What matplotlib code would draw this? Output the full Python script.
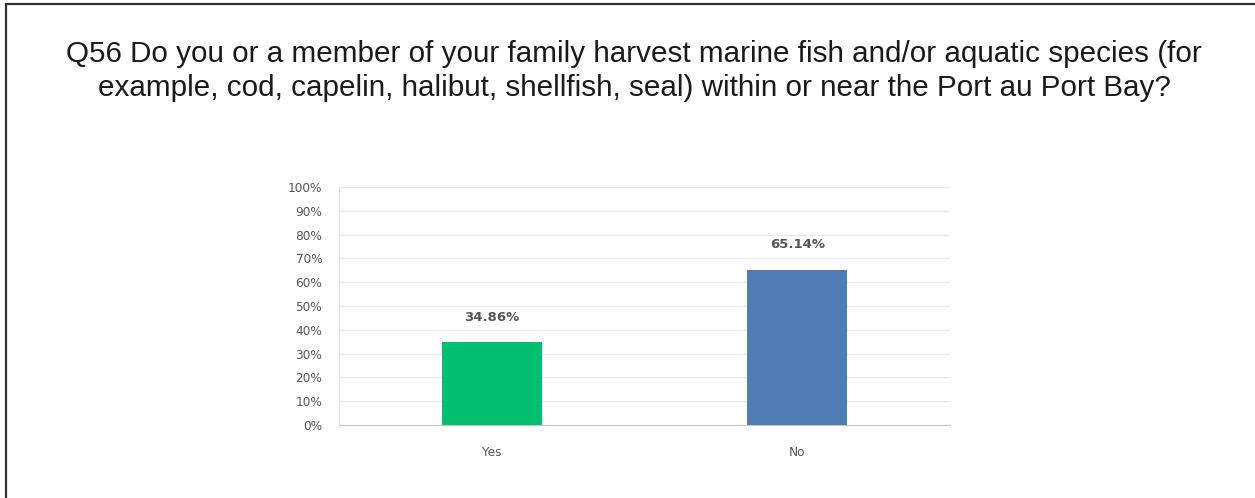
import matplotlib.pyplot as plt
from matplotlib.patches import Rectangle

categories = ["Yes", "No"]
values = [34.86, 65.14]
colors = ["#00bf6f", "#507cb6"]
yticks = [0, 10, 20, 30, 40, 50, 60, 70, 80, 90, 100]
title = ("Q56 Do you or a member of your family harvest marine fish and/or aquatic species (for\n"
         "example, cod, capelin, halibut, shellfish, seal) within or near the Port au Port Bay?")

W, H = 1255, 498
fig = plt.figure(figsize=(W / 100, H / 100), dpi=100)
fig.patch.set_facecolor("white")

# outer frame (top and left edges visible)
fig.add_artist(Rectangle((6 / W, -0.05), 1.2, (H - 4) / H + 0.05,
                         transform=fig.transFigure, fill=False,
                         edgecolor="#333333", linewidth=1.6))

fig.text(634 / W, 1 - 71 / H, title, ha="center", va="center",
         fontsize=21.3, family="Liberation Sans", color="#1a1a1a",
         linespacing=1.3)

ax = fig.add_axes([339 / W, 1 - 425 / H, (950 - 339) / W, (425 - 187) / H])
x = range(len(categories))
bars = ax.bar(x, values, width=0.327, color=colors, zorder=3)
ax.set_xlim(-0.5, 1.5)
ax.set_ylim(0, 100)
ax.set_yticks(yticks)
ax.set_yticklabels([f"{t}%" for t in yticks])
ax.set_xticks(list(x))
ax.set_xticklabels(categories)
ax.grid(axis="y", color="#ebebeb", linewidth=1, zorder=0)
for s in ["top", "right"]:
    ax.spines[s].set_visible(False)
ax.spines["left"].set_color("#e0e0e0")
ax.spines["bottom"].set_color("#c8c8c8")
ax.tick_params(axis="both", length=0, labelsize=8.7, labelcolor="#555555")
ax.tick_params(axis="y", pad=12)
ax.tick_params(axis="x", pad=15)
for lab in ax.get_xticklabels() + ax.get_yticklabels():
    lab.set_family("DejaVu Sans")

for b, v in zip(bars, values):
    ax.annotate(f"{v:.2f}%", (b.get_x() + b.get_width() / 2, v),
                xytext=(0, 18), textcoords="offset points", ha="center",
                va="center", fontsize=9.5, fontweight="bold", color="#555555",
                family="DejaVu Sans")

fig.savefig("out.png", dpi=100)
